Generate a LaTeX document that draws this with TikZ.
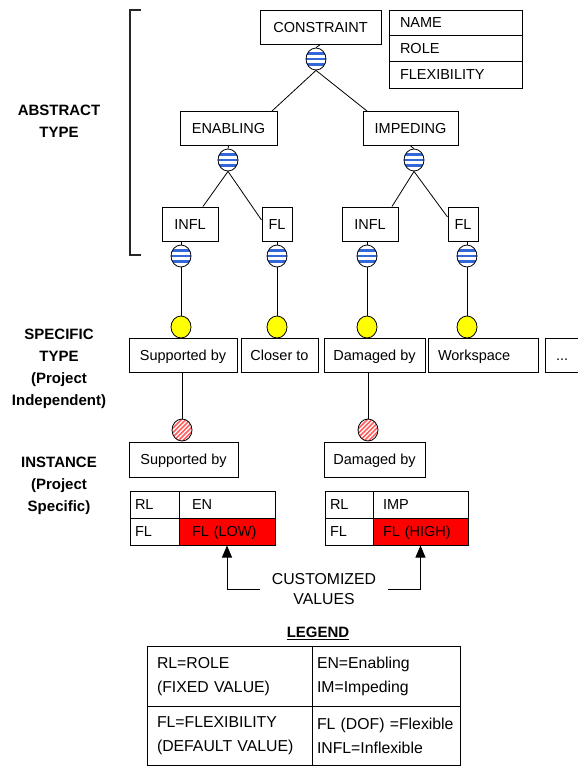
\documentclass[tikz,border=0pt]{standalone}
\usepackage{fontspec}
\setmainfont{Liberation Sans}
\usetikzlibrary{shapes.geometric,arrows.meta}

\definecolor{stripeblue}{RGB}{51,102,214}
\definecolor{hatchred}{RGB}{255,95,95}
\definecolor{cellred}{RGB}{255,0,0}
\definecolor{bubble}{RGB}{255,255,0}

\newcommand{\boxfont}{\fontsize{14.5}{24}\selectfont}
\newcommand{\keyfont}{\fontsize{15.8}{24}\selectfont}
\newcommand{\notefont}{\fontsize{15.8}{20}\selectfont}
\newcommand{\tagfont}{\fontsize{15}{22}\selectfont\bfseries}

\begin{document}
\begin{tikzpicture}[x=1pt,y=-1pt,
  box/.style={draw, line width=1pt, fill=white, inner sep=0pt, font=\boxfont,
    text height=10.4pt, text depth=0pt},
  cell/.style={box, align=left},
  legcell/.style={draw, line width=1pt, inner sep=0pt, align=left, font=\keyfont},
  tag/.style={align=center, font=\tagfont, inner sep=0pt},
  link/.style={line width=0.8pt},
  dot/.style={ellipse, draw, line width=0.8pt, inner sep=0pt,
    minimum width=20pt, minimum height=22pt},
  striped/.style={dot, fill=white, path picture={
      \foreach \dy in {-5.5,0,5.5}
        \draw[stripeblue, line width=2.6pt]
          ([yshift=\dy pt]path picture bounding box.west) --
          ([yshift=\dy pt]path picture bounding box.east);}},
  typedot/.style={dot, fill=bubble},
  hatched/.style={dot, fill=white, path picture={
      \foreach \k in {-20,-15.5,...,20}
        \draw[hatchred, line width=1.6pt]
          ([xshift=\k pt-15pt, yshift=-15pt]path picture bounding box.center) -- ++(30pt,30pt);}},
  pointer/.style={line width=1pt, -{Triangle[length=12pt,width=10pt]}}
]
\useasboundingbox (0,0) rectangle (578,766);

% side bracket grouping the abstract levels
\draw[line width=1.1pt, black!85] (141,10) -- (130,10) -- (130,255) -- (141,255);

% level captions
\node[tag] (capA) at (59,121) {ABSTRACT\\TYPE};
\node[tag] (capS) at (59,369) {SPECIFIC\\TYPE\\(Project\\Independent)};
\node[tag] (capI) at (59,486) {INSTANCE\\(Project\\Specific)};

% abstract hierarchy
\node[box, minimum width=121pt, minimum height=34pt] (constraint) at (320.5,27) {CONSTRAINT};
\node[cell, text width=111pt, inner xsep=11pt, minimum height=25pt] (attrName) at (455.5,22.5) {NAME};
\node[cell, text width=111pt, inner xsep=11pt, minimum height=26pt] (attrRole) at (455.5,48) {ROLE};
\node[cell, text width=111pt, inner xsep=11pt, minimum height=27pt] (attrFlex) at (455.5,74.5) {FLEXIBILITY};

\node[striped] (c0) at (316,59) {};
\node[box, minimum width=97pt, minimum height=34pt] (enabling) at (228.5,128.5) {ENABLING};
\node[box, minimum width=95pt, minimum height=34pt] (impeding) at (410.5,128.5) {IMPEDING};
\node[striped] (cE) at (228,160) {};
\node[striped] (cI) at (414,160) {};

\node[box, minimum width=56pt, minimum height=34pt] (inflL) at (190,224) {INFL};
\node[box, minimum width=30pt, minimum height=34pt] (flL) at (277,224) {FL};
\node[box, minimum width=56pt, minimum height=34pt] (inflR) at (370,224) {INFL};
\node[box, minimum width=30pt, minimum height=34pt] (flR) at (463,224) {FL};

\node[striped] (b1) at (181,256) {};
\node[striped] (b2) at (277,256) {};
\node[striped] (b3) at (367,256) {};
\node[striped] (b4) at (467,256) {};

% specific types
\node[typedot] (y1) at (181,327) {};
\node[typedot] (y2) at (277,327) {};
\node[typedot] (y3) at (367,327) {};
\node[typedot] (y4) at (467,327) {};

\node[box, minimum width=108pt, minimum height=34pt] (sp1) at (183,355) {Supported by};
\node[box, minimum width=77pt, minimum height=34pt] (sp2) at (279.5,355) {Closer to};
\node[box, minimum width=101pt, minimum height=34pt] (sp3) at (374.5,355) {Damaged by};
\node[cell, text width=90pt, inner xsep=10pt, minimum height=34pt] (sp4) at (483,355) {Workspace};
\node[cell, text width=34pt, inner xsep=11pt, minimum height=34pt] (sp5) at (573,355) {...};

% instances
\node[hatched] (h1) at (182,430) {};
\node[hatched] (h2) at (368,430) {};
\node[box, minimum width=109pt, minimum height=35pt] (in1) at (183.5,459.5) {Supported by};
\node[box, minimum width=101pt, minimum height=35pt] (in2) at (374.5,459.5) {Damaged by};

\node[cell, text width=39pt, inner xsep=5pt, minimum height=27pt] (rlL) at (154.5,504.5) {RL};
\node[cell, text width=70pt, inner xsep=13pt, minimum height=27pt] (valL) at (227,504.5) {EN};
\node[cell, text width=39pt, inner xsep=5pt, minimum height=27pt] (fkL) at (154.5,531.5) {FL};
\node[cell, fill=cellred, text width=70pt, inner xsep=13pt, minimum height=27pt] (redL) at (227,531.5) {FL (LOW)};

\node[cell, text width=38pt, inner xsep=5pt, minimum height=27pt] (rlR) at (349,504.5) {RL};
\node[cell, text width=75pt, inner xsep=10pt, minimum height=27pt] (valR) at (420.5,504.5) {IMP};
\node[cell, text width=38pt, inner xsep=5pt, minimum height=27pt] (fkR) at (349,531.5) {FL};
\node[cell, fill=cellred, text width=75pt, inner xsep=10pt, minimum height=27pt] (redR) at (420.5,531.5) {FL (HIGH)};

% connectors of the hierarchy
\draw[link] (constraint.south) -- (c0.north);
\draw[link] (c0.south) -- ([xshift=43.5pt]enabling.north);
\draw[link] (c0.south) -- ([xshift=-43.5pt]impeding.north);
\draw[link] (enabling.south) -- (cE.north);
\draw[link] (impeding.south) -- (cI.north);
\draw[link] (cE.south) -- ([xshift=13pt]inflL.north);
\draw[link] (cE.south) -- ([yshift=4pt]flL.west);
\draw[link] (cI.south) -- ([xshift=22pt]inflR.north);
\draw[link] (cI.south) -- ([yshift=7pt]flR.west);
\draw[link] (inflL.south -| b1) -- (b1.north);
\draw[link] (flL.south -| b2) -- (b2.north);
\draw[link] (inflR.south -| b3) -- (b3.north);
\draw[link] (flR.south -| b4) -- (b4.north);
\draw[link] (b1.south) -- (y1.north);
\draw[link] (b2.south) -- (y2.north);
\draw[link] (b3.south) -- (y3.north);
\draw[link] (b4.south) -- (y4.north);
\draw[link] (sp1.south -| h1) -- (h1.north);
\draw[link] (sp3.south -| h2) -- (h2.north);

% customized values
\node[align=center, font=\notefont, inner sep=0pt, minimum width=128pt] (cv) at (324,589) {CUSTOMIZED\\VALUES};
\draw[pointer] (cv.west) -| (redL.south);
\draw[pointer] (cv.east) -| (redR.south);

% legend
\node[font=\tagfont, inner sep=0pt] (leg) at (318,632) {LEGEND};
\draw[line width=1.2pt] ([yshift=-2pt]leg.base west) -- ([yshift=-2pt]leg.base east);
\node[legcell, text width=145pt, inner xsep=10pt, minimum height=60pt] (lg1) at (229.5,676.5) {RL=ROLE\\(FIXED VALUE)};
\node[legcell, text width=138pt, inner xsep=5pt, minimum height=60pt] (lg2) at (386,676.5) {EN=Enabling\\IM=Impeding};
\node[legcell, text width=145pt, inner xsep=10pt, minimum height=59pt] (lg3) at (229.5,736) {FL=FLEXIBILITY\\(DEFAULT VALUE)};
\node[legcell, text width=138pt, inner xsep=5pt, minimum height=59pt] (lg4) at (386,736) {FL (DOF) =Flexible\\INFL=Inflexible};
\end{tikzpicture}
\end{document}
